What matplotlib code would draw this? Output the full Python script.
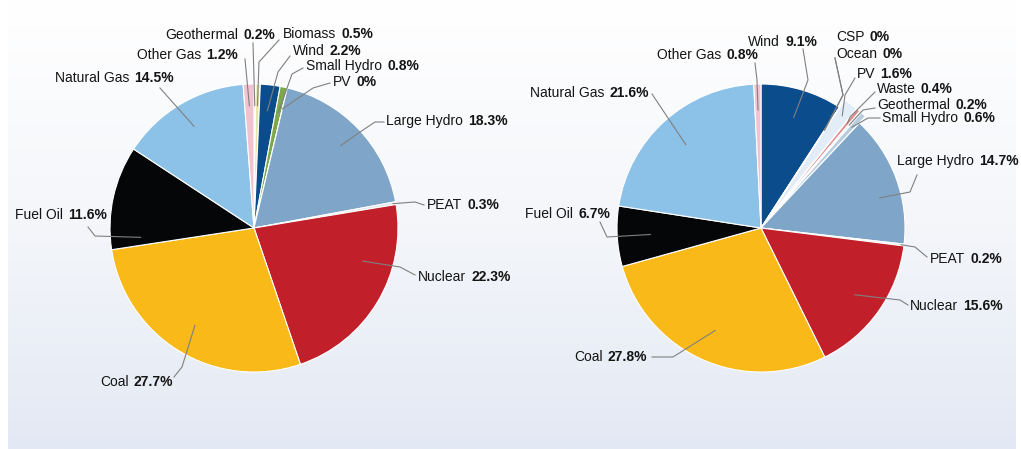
import numpy as np
import matplotlib.pyplot as plt
from matplotlib.colors import LinearSegmentedColormap

W, H = 1021, 449

# left pie, clockwise from 12 o'clock
left_names = ["Geothermal", "Biomass", "Wind", "Small Hydro", "PV", "Large Hydro",
              "PEAT", "Nuclear", "Coal", "Fuel Oil", "Natural Gas", "Other Gas"]
left_values = [0.2, 0.5, 2.2, 0.8, 0.0, 18.3, 0.3, 22.3, 27.7, 11.6, 14.5, 1.2]

# right pie, clockwise from 12 o'clock
right_names = ["Wind", "CSP", "Ocean", "PV", "Waste", "Geothermal", "Small Hydro",
               "Large Hydro", "PEAT", "Nuclear", "Coal", "Fuel Oil", "Natural Gas", "Other Gas"]
right_values = [9.1, 0.0, 0.0, 1.6, 0.4, 0.2, 0.6, 14.7, 0.2, 15.6, 27.8, 6.7, 21.6, 0.8]

left_colors = ["#f3dcd6", "#e2e6a8", "#0b4c8c", "#7ca84a", "#ffffff", "#7fa6c9",
               "#dde5ee", "#c1202b", "#f8b919", "#050608", "#8cc2e8", "#f1c3d1"]
right_colors = ["#0b4c8c", "#ffffff", "#ffffff", "#e3edf7", "#e08a8a", "#d8e4ee", "#b7cde0",
                "#7fa6c9", "#dde5ee", "#c1202b", "#f8b919", "#050608", "#8cc2e8", "#f1c3d1"]
right_explode = [0, 0, 0, 9, 9, 9, 9, 0, 0, 0, 0, 0, 0, 0]

# label layout in pixel coords (y down): align, x, y, leader points, radius frac, angle tweak
left_layout = {
    "Geothermal": ("right", 275, 35, [(253, 43)], 0.85, 0),
    "Biomass": ("left", 283, 34, [(259, 62), (279, 40)], 0.85, 0),
    "Other Gas": ("right", 238, 55, [(245, 59)], 0.85, 0),
    "Wind": ("left", 293, 51, [(278, 72), (290, 56)], 0.82, 0),
    "Small Hydro": ("left", 306, 66, [(292, 74), (303, 68)], 0.82, 0),
    "PV": ("left", 333, 82, [(313, 88), (330, 83)], 0.85, 0),
    "Natural Gas": ("right", 174, 78, [(160, 88)], 0.82, 0),
    "Large Hydro": ("left", 386, 121, [(360, 132), (375, 122), (384, 122)], 0.83, 0),
    "PEAT": ("left", 427, 205, [(415, 202), (424, 205)], 0.98, 0),
    "Nuclear": ("left", 418, 277, [(400, 267), (415, 275)], 0.79, -14),
    "Coal": ("right", 173, 382, [(182, 367), (174, 377)], 0.79, 0),
    "Fuel Oil": ("right", 107, 215, [(95, 236), (88, 227)], 0.79, -17),
}
right_layout = {
    "Wind": ("right", 817, 42, [(808, 80), (803, 49)], 0.8, 0),
    "CSP": ("left", 836, 37, [(843, 95), (835, 58)], 0.81, 0),
    "Ocean": ("left", 836, 54, [(843, 95), (835, 58)], 0.81, 0),
    "Other Gas": ("right", 758, 55, [(757, 80), (755, 63)], 0.82, 0),
    "PV": ("left", 857, 74, [(845, 95), (855, 78)], 0.9, 0),
    "Waste": ("left", 877, 89, [(850, 117), (875, 92)], 0.88, 0),
    "Geothermal": ("left", 877, 105, [(863, 110), (875, 108)], 0.88, 0),
    "Small Hydro": ("left", 882, 118, [(868, 118), (880, 118)], 0.88, 0),
    "Natural Gas": ("right", 649, 93, [(652, 94)], 0.78, 0),
    "Large Hydro": ("left", 897, 161, [(910, 192), (917, 175)], 0.85, 6),
    "PEAT": ("left", 930, 259, [(915, 247), (927, 257)], 0.98, 0),
    "Nuclear": ("left", 910, 306, [(900, 300), (908, 305)], 0.8, 0),
    "Coal": ("right", 647, 357, [(673, 357), (652, 357)], 0.78, 0),
    "Fuel Oil": ("right", 610, 214, [(607, 237), (600, 222)], 0.77, 0),
}

plt.rcParams["font.family"] = ["Liberation Sans", "DejaVu Sans"]

fig = plt.figure(figsize=(W / 100, H / 100), dpi=100)
ax = fig.add_axes([0, 0, 1, 1])

# background panel with soft gradient
cmap = LinearSegmentedColormap.from_list("bg", ["#ffffff", "#f4f6fa", "#e3e9f4"])
grad = np.linspace(0, 1, 256).reshape(-1, 1)
ax.imshow(grad, extent=(8, 1015, 0, H), aspect="auto", cmap=cmap, zorder=0)


def fmt(v):
    return "0%" if v == 0 else f"{v:.1f}%"


def draw_pie(names, values, colors, center, radius, layout, explode=None):
    cx, cy = center
    wedges, _ = ax.pie(values, colors=colors, startangle=90, counterclock=False,
                       center=(cx, H - cy), radius=radius, explode=explode,
                       wedgeprops=dict(edgecolor="white", linewidth=0.8))
    for w, name, v in zip(wedges, names, values):
        align, tx, ty, pts, rf, da = layout[name]
        ang = np.deg2rad((w.theta1 + w.theta2) / 2 - da)
        wx, wy = w.center
        x0 = wx + rf * w.r * np.cos(ang)
        y0 = wy + rf * w.r * np.sin(ang)
        xs = [x0] + [p[0] for p in pts]
        ys = [y0] + [H - p[1] for p in pts]
        ax.plot(xs, ys, color="#808080", lw=0.8, zorder=3)
        if align == "left":
            t = ax.text(tx, H - ty, name, ha="left", va="center", fontsize=10, color="#141414")
            ax.annotate(fmt(v), xy=(1, 0.5), xycoords=t, xytext=(5, 0),
                        textcoords="offset pixels", ha="left", va="center",
                        fontsize=10, fontweight="bold", color="#141414")
        else:
            t = ax.text(tx, H - ty, fmt(v), ha="right", va="center", fontsize=10,
                        fontweight="bold", color="#141414")
            ax.annotate(name, xy=(0, 0.5), xycoords=t, xytext=(-5, 0),
                        textcoords="offset pixels", ha="right", va="center",
                        fontsize=10, color="#141414")


draw_pie(left_names, left_values, left_colors, (254, 228), 144, left_layout)
draw_pie(right_names, right_values, right_colors, (761, 228), 144, right_layout, right_explode)

ax.set_xlim(0, W)
ax.set_ylim(0, H)
ax.set_aspect("equal")
ax.axis("off")

plt.savefig("out.png", dpi=100)
